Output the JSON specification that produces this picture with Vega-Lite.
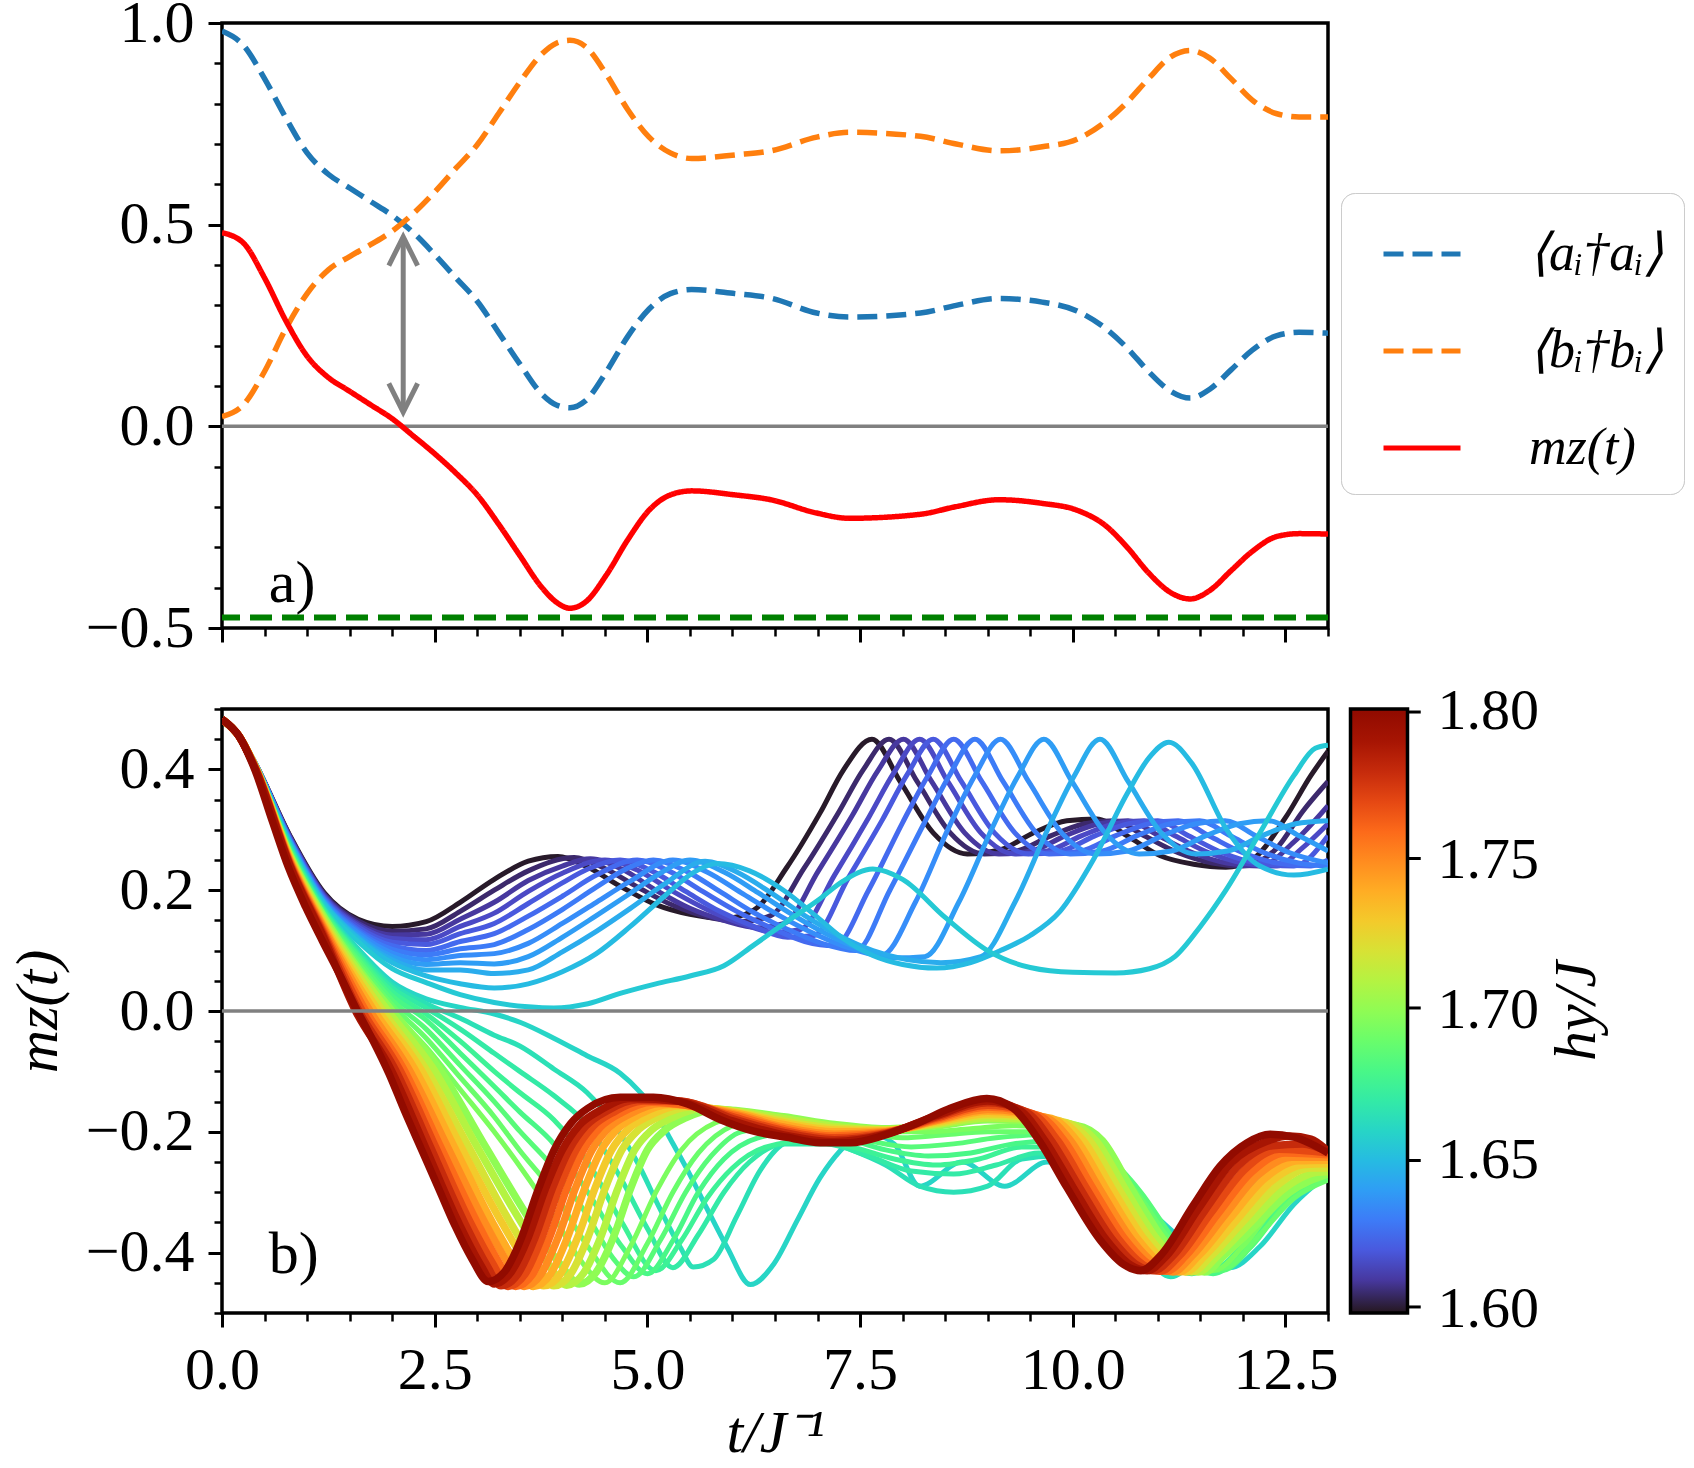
{
"$schema":"https://vega.github.io/schema/vega-lite/v6.json",
"background":"white",
"padding":{"left":6,"top":-9,"right":0,"bottom":0},
"config":{
 "font":"Liberation Serif",
 "view":{"stroke":"black","strokeWidth":3.5},
 "axis":{"grid":false,"domain":false,"labelFontSize":60,"titleFontSize":60,"labelColor":"black","titleColor":"black","tickColor":"black","titleFontWeight":"normal","titleFontStyle":"italic","labelFlush":false,"labelOverlap":false},
 "legend":{"labelColor":"black","titleColor":"black","titleFontWeight":"normal"}
},
"datasets":{
"top":[
{"s":"a","t":0,"v":0.98},{"s":"a","t":0.25,"v":0.945},{"s":"a","t":0.5,"v":0.862},{"s":"a","t":0.75,"v":0.765},{"s":"a","t":1.0,"v":0.678},{"s":"a","t":1.25,"v":0.625},{"s":"a","t":1.5,"v":0.591},{"s":"a","t":1.75,"v":0.557},{"s":"a","t":2.0,"v":0.523},{"s":"a","t":2.25,"v":0.48},{"s":"a","t":2.5,"v":0.426},{"s":"a","t":2.75,"v":0.368},{"s":"a","t":3.0,"v":0.31},{"s":"a","t":3.25,"v":0.233},{"s":"a","t":3.5,"v":0.155},{"s":"a","t":3.75,"v":0.082},{"s":"a","t":3.93,"v":0.053},{"s":"a","t":4.09,"v":0.046},{"s":"a","t":4.27,"v":0.063},{"s":"a","t":4.52,"v":0.136},{"s":"a","t":4.77,"v":0.223},{"s":"a","t":5.02,"v":0.291},{"s":"a","t":5.27,"v":0.329},{"s":"a","t":5.52,"v":0.339},{"s":"a","t":6.03,"v":0.329},{"s":"a","t":6.45,"v":0.318},{"s":"a","t":6.99,"v":0.281},{"s":"a","t":7.37,"v":0.271},{"s":"a","t":8.21,"v":0.281},{"s":"a","t":8.63,"v":0.3},{"s":"a","t":9.13,"v":0.317},{"s":"a","t":9.64,"v":0.308},{"s":"a","t":10.05,"v":0.286},{"s":"a","t":10.39,"v":0.242},{"s":"a","t":10.64,"v":0.194},{"s":"a","t":10.89,"v":0.136},{"s":"a","t":11.15,"v":0.087},{"s":"a","t":11.38,"v":0.07},{"s":"a","t":11.61,"v":0.092},{"s":"a","t":11.86,"v":0.14},{"s":"a","t":12.11,"v":0.189},{"s":"a","t":12.4,"v":0.225},{"s":"a","t":12.66,"v":0.233},{"s":"a","t":13.0,"v":0.231},
{"s":"b","t":0,"v":0.024},{"s":"b","t":0.25,"v":0.053},{"s":"b","t":0.5,"v":0.136},{"s":"b","t":0.75,"v":0.242},{"s":"b","t":1.0,"v":0.329},{"s":"b","t":1.25,"v":0.388},{"s":"b","t":1.5,"v":0.421},{"s":"b","t":1.75,"v":0.451},{"s":"b","t":2.0,"v":0.484},{"s":"b","t":2.25,"v":0.528},{"s":"b","t":2.5,"v":0.581},{"s":"b","t":2.75,"v":0.64},{"s":"b","t":3.0,"v":0.698},{"s":"b","t":3.25,"v":0.775},{"s":"b","t":3.5,"v":0.853},{"s":"b","t":3.75,"v":0.921},{"s":"b","t":3.93,"v":0.95},{"s":"b","t":4.09,"v":0.957},{"s":"b","t":4.27,"v":0.942},{"s":"b","t":4.52,"v":0.872},{"s":"b","t":4.77,"v":0.785},{"s":"b","t":5.02,"v":0.717},{"s":"b","t":5.27,"v":0.678},{"s":"b","t":5.52,"v":0.664},{"s":"b","t":6.03,"v":0.673},{"s":"b","t":6.45,"v":0.683},{"s":"b","t":6.99,"v":0.717},{"s":"b","t":7.37,"v":0.729},{"s":"b","t":8.21,"v":0.719},{"s":"b","t":8.63,"v":0.7},{"s":"b","t":9.13,"v":0.683},{"s":"b","t":9.64,"v":0.693},{"s":"b","t":10.05,"v":0.712},{"s":"b","t":10.39,"v":0.756},{"s":"b","t":10.64,"v":0.804},{"s":"b","t":10.89,"v":0.862},{"s":"b","t":11.15,"v":0.916},{"s":"b","t":11.38,"v":0.932},{"s":"b","t":11.61,"v":0.913},{"s":"b","t":11.86,"v":0.862},{"s":"b","t":12.11,"v":0.809},{"s":"b","t":12.4,"v":0.775},{"s":"b","t":12.66,"v":0.767},{"s":"b","t":13.0,"v":0.767},
{"s":"m","t":0,"v":0.48},{"s":"m","t":0.25,"v":0.455},{"s":"m","t":0.5,"v":0.368},{"s":"m","t":0.75,"v":0.262},{"s":"m","t":1.0,"v":0.174},{"s":"m","t":1.25,"v":0.121},{"s":"m","t":1.5,"v":0.087},{"s":"m","t":1.75,"v":0.053},{"s":"m","t":2.0,"v":0.019},{"s":"m","t":2.25,"v":-0.024},{"s":"m","t":2.5,"v":-0.068},{"s":"m","t":2.75,"v":-0.116},{"s":"m","t":3.0,"v":-0.17},{"s":"m","t":3.25,"v":-0.242},{"s":"m","t":3.5,"v":-0.32},{"s":"m","t":3.75,"v":-0.397},{"s":"m","t":3.93,"v":-0.436},{"s":"m","t":4.09,"v":-0.451},{"s":"m","t":4.27,"v":-0.436},{"s":"m","t":4.52,"v":-0.368},{"s":"m","t":4.77,"v":-0.281},{"s":"m","t":5.02,"v":-0.208},{"s":"m","t":5.27,"v":-0.17},{"s":"m","t":5.52,"v":-0.16},{"s":"m","t":6.03,"v":-0.17},{"s":"m","t":6.45,"v":-0.182},{"s":"m","t":6.99,"v":-0.215},{"s":"m","t":7.37,"v":-0.228},{"s":"m","t":8.21,"v":-0.218},{"s":"m","t":8.63,"v":-0.199},{"s":"m","t":9.13,"v":-0.182},{"s":"m","t":9.64,"v":-0.191},{"s":"m","t":10.05,"v":-0.208},{"s":"m","t":10.39,"v":-0.247},{"s":"m","t":10.64,"v":-0.3},{"s":"m","t":10.89,"v":-0.363},{"s":"m","t":11.15,"v":-0.412},{"s":"m","t":11.38,"v":-0.428},{"s":"m","t":11.61,"v":-0.407},{"s":"m","t":11.86,"v":-0.358},{"s":"m","t":12.11,"v":-0.31},{"s":"m","t":12.4,"v":-0.273},{"s":"m","t":12.66,"v":-0.266},{"s":"m","t":13.0,"v":-0.267}
],
"bot":[
{"h":1.6,"t":0,"m":0.483},{"h":1.6,"t":0.2,"m":0.457},{"h":1.6,"t":0.4,"m":0.408},{"h":1.6,"t":0.8,"m":0.29},{"h":1.6,"t":1.2,"m":0.196},{"h":1.6,"t":1.6,"m":0.152},{"h":1.6,"t":2.0,"m":0.14},{"h":1.6,"t":2.4,"m":0.148},{"h":1.6,"t":2.8,"m":0.18},{"h":1.6,"t":3.2,"m":0.218},{"h":1.6,"t":3.6,"m":0.248},{"h":1.6,"t":3.95,"m":0.256},{"h":1.6,"t":4.3,"m":0.238},{"h":1.6,"t":4.7,"m":0.205},{"h":1.6,"t":5.1,"m":0.176},{"h":1.6,"t":5.5,"m":0.16},{"h":1.6,"t":5.9,"m":0.153},{"h":1.6,"t":6.25,"m":0.167},{"h":1.6,"t":6.64,"m":0.238},{"h":1.6,"t":7.03,"m":0.328},{"h":1.6,"t":7.3,"m":0.398},{"h":1.6,"t":7.64,"m":0.45},{"h":1.6,"t":7.97,"m":0.38},{"h":1.6,"t":8.36,"m":0.295},{"h":1.6,"t":8.76,"m":0.26},{"h":1.6,"t":9.15,"m":0.267},{"h":1.6,"t":9.54,"m":0.295},{"h":1.6,"t":9.93,"m":0.315},{"h":1.6,"t":10.28,"m":0.318},{"h":1.6,"t":10.64,"m":0.29},{"h":1.6,"t":11.03,"m":0.257},{"h":1.6,"t":11.42,"m":0.243},{"h":1.6,"t":11.8,"m":0.238},{"h":1.6,"t":12.1,"m":0.25},{"h":1.6,"t":12.5,"m":0.32},{"h":1.6,"t":12.8,"m":0.39},{"h":1.6,"t":13,"m":0.43},
{"h":1.605,"t":0,"m":0.483},{"h":1.605,"t":0.2,"m":0.457},{"h":1.605,"t":0.4,"m":0.407},{"h":1.605,"t":0.8,"m":0.289},{"h":1.605,"t":1.2,"m":0.194},{"h":1.605,"t":1.6,"m":0.149},{"h":1.605,"t":2.0,"m":0.132},{"h":1.605,"t":2.4,"m":0.136},{"h":1.605,"t":2.8,"m":0.165},{"h":1.605,"t":3.2,"m":0.2},{"h":1.605,"t":3.6,"m":0.232},{"h":1.605,"t":4.14,"m":0.254},{"h":1.605,"t":4.5,"m":0.236},{"h":1.605,"t":4.9,"m":0.204},{"h":1.605,"t":5.3,"m":0.175},{"h":1.605,"t":5.7,"m":0.156},{"h":1.605,"t":6.1,"m":0.148},{"h":1.605,"t":6.45,"m":0.158},{"h":1.605,"t":6.84,"m":0.236},{"h":1.605,"t":7.24,"m":0.327},{"h":1.605,"t":7.54,"m":0.4},{"h":1.605,"t":7.84,"m":0.45},{"h":1.605,"t":8.17,"m":0.38},{"h":1.605,"t":8.56,"m":0.295},{"h":1.605,"t":8.96,"m":0.26},{"h":1.605,"t":9.34,"m":0.265},{"h":1.605,"t":9.74,"m":0.29},{"h":1.605,"t":10.14,"m":0.31},{"h":1.605,"t":10.48,"m":0.315},{"h":1.605,"t":10.84,"m":0.29},{"h":1.605,"t":11.24,"m":0.262},{"h":1.605,"t":11.64,"m":0.245},{"h":1.605,"t":12.0,"m":0.24},{"h":1.605,"t":12.4,"m":0.27},{"h":1.605,"t":12.7,"m":0.33},{"h":1.605,"t":13,"m":0.38},
{"h":1.61,"t":0,"m":0.483},{"h":1.61,"t":0.2,"m":0.457},{"h":1.61,"t":0.4,"m":0.407},{"h":1.61,"t":0.8,"m":0.287},{"h":1.61,"t":1.2,"m":0.192},{"h":1.61,"t":1.6,"m":0.145},{"h":1.61,"t":2.0,"m":0.126},{"h":1.61,"t":2.4,"m":0.127},{"h":1.61,"t":2.8,"m":0.152},{"h":1.61,"t":3.2,"m":0.18},{"h":1.61,"t":3.6,"m":0.216},{"h":1.61,"t":4.0,"m":0.24},{"h":1.61,"t":4.33,"m":0.252},{"h":1.61,"t":4.7,"m":0.235},{"h":1.61,"t":5.1,"m":0.2},{"h":1.61,"t":5.5,"m":0.17},{"h":1.61,"t":5.9,"m":0.15},{"h":1.61,"t":6.3,"m":0.138},{"h":1.61,"t":6.61,"m":0.145},{"h":1.61,"t":7.01,"m":0.232},{"h":1.61,"t":7.41,"m":0.324},{"h":1.61,"t":7.71,"m":0.398},{"h":1.61,"t":8.01,"m":0.45},{"h":1.61,"t":8.34,"m":0.38},{"h":1.61,"t":8.73,"m":0.295},{"h":1.61,"t":9.13,"m":0.26},{"h":1.61,"t":9.51,"m":0.265},{"h":1.61,"t":9.91,"m":0.29},{"h":1.61,"t":10.31,"m":0.31},{"h":1.61,"t":10.65,"m":0.315},{"h":1.61,"t":11.01,"m":0.29},{"h":1.61,"t":11.41,"m":0.262},{"h":1.61,"t":11.81,"m":0.245},{"h":1.61,"t":12.2,"m":0.24},{"h":1.61,"t":12.6,"m":0.28},{"h":1.61,"t":13,"m":0.34},
{"h":1.615,"t":0,"m":0.483},{"h":1.615,"t":0.2,"m":0.457},{"h":1.615,"t":0.4,"m":0.407},{"h":1.615,"t":0.8,"m":0.286},{"h":1.615,"t":1.2,"m":0.19},{"h":1.615,"t":1.6,"m":0.142},{"h":1.615,"t":2.0,"m":0.12},{"h":1.615,"t":2.4,"m":0.118},{"h":1.615,"t":2.8,"m":0.14},{"h":1.615,"t":3.2,"m":0.162},{"h":1.615,"t":3.6,"m":0.198},{"h":1.615,"t":4.0,"m":0.228},{"h":1.615,"t":4.5,"m":0.25},{"h":1.615,"t":4.9,"m":0.232},{"h":1.615,"t":5.3,"m":0.198},{"h":1.615,"t":5.7,"m":0.168},{"h":1.615,"t":6.1,"m":0.145},{"h":1.615,"t":6.5,"m":0.13},{"h":1.615,"t":6.8,"m":0.135},{"h":1.615,"t":7.2,"m":0.225},{"h":1.615,"t":7.6,"m":0.32},{"h":1.615,"t":7.9,"m":0.395},{"h":1.615,"t":8.2,"m":0.45},{"h":1.615,"t":8.53,"m":0.38},{"h":1.615,"t":8.92,"m":0.295},{"h":1.615,"t":9.32,"m":0.26},{"h":1.615,"t":9.7,"m":0.265},{"h":1.615,"t":10.1,"m":0.29},{"h":1.615,"t":10.5,"m":0.31},{"h":1.615,"t":10.84,"m":0.315},{"h":1.615,"t":11.2,"m":0.29},{"h":1.615,"t":11.6,"m":0.262},{"h":1.615,"t":12.0,"m":0.245},{"h":1.615,"t":12.4,"m":0.24},{"h":1.615,"t":12.7,"m":0.27},{"h":1.615,"t":13,"m":0.31},
{"h":1.62,"t":0,"m":0.483},{"h":1.62,"t":0.2,"m":0.457},{"h":1.62,"t":0.4,"m":0.407},{"h":1.62,"t":0.8,"m":0.285},{"h":1.62,"t":1.2,"m":0.188},{"h":1.62,"t":1.6,"m":0.139},{"h":1.62,"t":2.0,"m":0.114},{"h":1.62,"t":2.4,"m":0.11},{"h":1.62,"t":2.8,"m":0.128},{"h":1.62,"t":3.2,"m":0.145},{"h":1.62,"t":3.6,"m":0.178},{"h":1.62,"t":4.0,"m":0.212},{"h":1.62,"t":4.3,"m":0.235},{"h":1.62,"t":4.68,"m":0.25},{"h":1.62,"t":5.05,"m":0.232},{"h":1.62,"t":5.45,"m":0.198},{"h":1.62,"t":5.85,"m":0.165},{"h":1.62,"t":6.25,"m":0.14},{"h":1.62,"t":6.65,"m":0.122},{"h":1.62,"t":6.96,"m":0.125},{"h":1.62,"t":7.36,"m":0.22},{"h":1.62,"t":7.76,"m":0.316},{"h":1.62,"t":8.06,"m":0.393},{"h":1.62,"t":8.36,"m":0.45},{"h":1.62,"t":8.69,"m":0.38},{"h":1.62,"t":9.08,"m":0.295},{"h":1.62,"t":9.48,"m":0.26},{"h":1.62,"t":9.86,"m":0.265},{"h":1.62,"t":10.26,"m":0.29},{"h":1.62,"t":10.66,"m":0.31},{"h":1.62,"t":11.0,"m":0.315},{"h":1.62,"t":11.36,"m":0.29},{"h":1.62,"t":11.76,"m":0.262},{"h":1.62,"t":12.16,"m":0.245},{"h":1.62,"t":12.6,"m":0.24},{"h":1.62,"t":13,"m":0.29},
{"h":1.625,"t":0,"m":0.483},{"h":1.625,"t":0.2,"m":0.457},{"h":1.625,"t":0.4,"m":0.407},{"h":1.625,"t":0.8,"m":0.283},{"h":1.625,"t":1.2,"m":0.186},{"h":1.625,"t":1.6,"m":0.135},{"h":1.625,"t":2.0,"m":0.108},{"h":1.625,"t":2.4,"m":0.1},{"h":1.625,"t":2.8,"m":0.115},{"h":1.625,"t":3.2,"m":0.128},{"h":1.625,"t":3.6,"m":0.157},{"h":1.625,"t":4.0,"m":0.19},{"h":1.625,"t":4.4,"m":0.225},{"h":1.625,"t":4.88,"m":0.25},{"h":1.625,"t":5.25,"m":0.232},{"h":1.625,"t":5.65,"m":0.198},{"h":1.625,"t":6.05,"m":0.165},{"h":1.625,"t":6.45,"m":0.138},{"h":1.625,"t":6.85,"m":0.115},{"h":1.625,"t":7.2,"m":0.108},{"h":1.625,"t":7.6,"m":0.2},{"h":1.625,"t":8.0,"m":0.312},{"h":1.625,"t":8.3,"m":0.39},{"h":1.625,"t":8.6,"m":0.45},{"h":1.625,"t":8.93,"m":0.38},{"h":1.625,"t":9.32,"m":0.295},{"h":1.625,"t":9.72,"m":0.26},{"h":1.625,"t":10.1,"m":0.265},{"h":1.625,"t":10.5,"m":0.29},{"h":1.625,"t":10.9,"m":0.31},{"h":1.625,"t":11.24,"m":0.315},{"h":1.625,"t":11.6,"m":0.29},{"h":1.625,"t":12.0,"m":0.262},{"h":1.625,"t":12.4,"m":0.245},{"h":1.625,"t":12.8,"m":0.24},{"h":1.625,"t":13,"m":0.25},
{"h":1.63,"t":0,"m":0.483},{"h":1.63,"t":0.2,"m":0.457},{"h":1.63,"t":0.4,"m":0.407},{"h":1.63,"t":0.8,"m":0.282},{"h":1.63,"t":1.2,"m":0.184},{"h":1.63,"t":1.6,"m":0.132},{"h":1.63,"t":2.0,"m":0.102},{"h":1.63,"t":2.4,"m":0.093},{"h":1.63,"t":2.8,"m":0.103},{"h":1.63,"t":3.2,"m":0.11},{"h":1.63,"t":3.6,"m":0.135},{"h":1.63,"t":4.0,"m":0.168},{"h":1.63,"t":4.4,"m":0.205},{"h":1.63,"t":4.75,"m":0.235},{"h":1.63,"t":5.07,"m":0.25},{"h":1.63,"t":5.45,"m":0.232},{"h":1.63,"t":5.85,"m":0.198},{"h":1.63,"t":6.25,"m":0.163},{"h":1.63,"t":6.65,"m":0.135},{"h":1.63,"t":7.05,"m":0.112},{"h":1.63,"t":7.45,"m":0.1},{"h":1.63,"t":7.85,"m":0.2},{"h":1.63,"t":8.25,"m":0.31},{"h":1.63,"t":8.55,"m":0.39},{"h":1.63,"t":8.85,"m":0.45},{"h":1.63,"t":9.18,"m":0.38},{"h":1.63,"t":9.57,"m":0.295},{"h":1.63,"t":9.97,"m":0.26},{"h":1.63,"t":10.35,"m":0.265},{"h":1.63,"t":10.75,"m":0.29},{"h":1.63,"t":11.15,"m":0.31},{"h":1.63,"t":11.49,"m":0.315},{"h":1.63,"t":11.85,"m":0.29},{"h":1.63,"t":12.25,"m":0.262},{"h":1.63,"t":12.65,"m":0.245},{"h":1.63,"t":13,"m":0.24},
{"h":1.635,"t":0,"m":0.483},{"h":1.635,"t":0.2,"m":0.457},{"h":1.635,"t":0.4,"m":0.407},{"h":1.635,"t":0.8,"m":0.281},{"h":1.635,"t":1.2,"m":0.182},{"h":1.635,"t":1.6,"m":0.129},{"h":1.635,"t":2.0,"m":0.096},{"h":1.635,"t":2.4,"m":0.085},{"h":1.635,"t":2.8,"m":0.092},{"h":1.635,"t":3.2,"m":0.095},{"h":1.635,"t":3.6,"m":0.112},{"h":1.635,"t":4.0,"m":0.145},{"h":1.635,"t":4.4,"m":0.18},{"h":1.635,"t":4.8,"m":0.215},{"h":1.635,"t":5.3,"m":0.25},{"h":1.635,"t":5.7,"m":0.23},{"h":1.635,"t":6.1,"m":0.196},{"h":1.635,"t":6.5,"m":0.162},{"h":1.635,"t":6.9,"m":0.132},{"h":1.635,"t":7.3,"m":0.108},{"h":1.635,"t":7.75,"m":0.092},{"h":1.635,"t":8.15,"m":0.18},{"h":1.635,"t":8.55,"m":0.306},{"h":1.635,"t":8.85,"m":0.39},{"h":1.635,"t":9.15,"m":0.45},{"h":1.635,"t":9.48,"m":0.38},{"h":1.635,"t":9.87,"m":0.295},{"h":1.635,"t":10.27,"m":0.26},{"h":1.635,"t":10.65,"m":0.265},{"h":1.635,"t":11.05,"m":0.29},{"h":1.635,"t":11.45,"m":0.31},{"h":1.635,"t":11.79,"m":0.315},{"h":1.635,"t":12.15,"m":0.29},{"h":1.635,"t":12.55,"m":0.262},{"h":1.635,"t":13,"m":0.245},
{"h":1.64,"t":0,"m":0.483},{"h":1.64,"t":0.2,"m":0.457},{"h":1.64,"t":0.4,"m":0.407},{"h":1.64,"t":0.8,"m":0.28},{"h":1.64,"t":1.2,"m":0.18},{"h":1.64,"t":1.6,"m":0.125},{"h":1.64,"t":2.0,"m":0.09},{"h":1.64,"t":2.4,"m":0.077},{"h":1.64,"t":2.8,"m":0.08},{"h":1.64,"t":3.2,"m":0.078},{"h":1.64,"t":3.6,"m":0.09},{"h":1.64,"t":4.0,"m":0.122},{"h":1.64,"t":4.4,"m":0.158},{"h":1.64,"t":4.8,"m":0.195},{"h":1.64,"t":5.15,"m":0.228},{"h":1.64,"t":5.5,"m":0.25},{"h":1.64,"t":5.9,"m":0.23},{"h":1.64,"t":6.3,"m":0.196},{"h":1.64,"t":6.7,"m":0.16},{"h":1.64,"t":7.1,"m":0.128},{"h":1.64,"t":7.5,"m":0.103},{"h":1.64,"t":7.9,"m":0.088},{"h":1.64,"t":8.26,"m":0.09},{"h":1.64,"t":8.66,"m":0.18},{"h":1.64,"t":9.06,"m":0.305},{"h":1.64,"t":9.36,"m":0.39},{"h":1.64,"t":9.66,"m":0.45},{"h":1.64,"t":9.99,"m":0.38},{"h":1.64,"t":10.38,"m":0.295},{"h":1.64,"t":10.78,"m":0.26},{"h":1.64,"t":11.16,"m":0.265},{"h":1.64,"t":11.56,"m":0.29},{"h":1.64,"t":11.96,"m":0.31},{"h":1.64,"t":12.3,"m":0.315},{"h":1.64,"t":12.66,"m":0.29},{"h":1.64,"t":13,"m":0.265},
{"h":1.645,"t":0,"m":0.483},{"h":1.645,"t":0.2,"m":0.457},{"h":1.645,"t":0.4,"m":0.407},{"h":1.645,"t":0.8,"m":0.279},{"h":1.645,"t":1.2,"m":0.179},{"h":1.645,"t":1.6,"m":0.122},{"h":1.645,"t":2.0,"m":0.085},{"h":1.645,"t":2.4,"m":0.068},{"h":1.645,"t":2.8,"m":0.068},{"h":1.645,"t":3.2,"m":0.062},{"h":1.645,"t":3.6,"m":0.068},{"h":1.645,"t":4.0,"m":0.098},{"h":1.645,"t":4.4,"m":0.132},{"h":1.645,"t":4.8,"m":0.17},{"h":1.645,"t":5.2,"m":0.21},{"h":1.645,"t":5.68,"m":0.248},{"h":1.645,"t":6.05,"m":0.23},{"h":1.645,"t":6.45,"m":0.196},{"h":1.645,"t":6.85,"m":0.158},{"h":1.645,"t":7.25,"m":0.125},{"h":1.645,"t":7.65,"m":0.1},{"h":1.645,"t":8.05,"m":0.085},{"h":1.645,"t":8.45,"m":0.08},{"h":1.645,"t":8.92,"m":0.09},{"h":1.645,"t":9.32,"m":0.18},{"h":1.645,"t":9.72,"m":0.305},{"h":1.645,"t":10.02,"m":0.39},{"h":1.645,"t":10.32,"m":0.45},{"h":1.645,"t":10.65,"m":0.38},{"h":1.645,"t":11.04,"m":0.295},{"h":1.645,"t":11.44,"m":0.26},{"h":1.645,"t":11.82,"m":0.265},{"h":1.645,"t":12.22,"m":0.29},{"h":1.645,"t":12.62,"m":0.31},{"h":1.645,"t":13,"m":0.315},
{"h":1.65,"t":0,"m":0.483},{"h":1.65,"t":0.2,"m":0.457},{"h":1.65,"t":0.4,"m":0.406},{"h":1.65,"t":0.8,"m":0.277},{"h":1.65,"t":1.2,"m":0.178},{"h":1.65,"t":1.6,"m":0.12},{"h":1.65,"t":2.0,"m":0.08},{"h":1.65,"t":2.4,"m":0.058},{"h":1.65,"t":2.8,"m":0.045},{"h":1.65,"t":3.2,"m":0.038},{"h":1.65,"t":3.6,"m":0.045},{"h":1.65,"t":4.0,"m":0.065},{"h":1.65,"t":4.4,"m":0.095},{"h":1.65,"t":4.8,"m":0.14},{"h":1.65,"t":5.2,"m":0.19},{"h":1.65,"t":5.55,"m":0.23},{"h":1.65,"t":5.82,"m":0.244},{"h":1.65,"t":6.2,"m":0.232},{"h":1.65,"t":6.6,"m":0.2},{"h":1.65,"t":7.0,"m":0.155},{"h":1.65,"t":7.3,"m":0.12},{"h":1.65,"t":7.65,"m":0.092},{"h":1.65,"t":8.0,"m":0.077},{"h":1.65,"t":8.4,"m":0.071},{"h":1.65,"t":8.8,"m":0.08},{"h":1.65,"t":9.15,"m":0.1},{"h":1.65,"t":9.5,"m":0.125},{"h":1.65,"t":9.85,"m":0.165},{"h":1.65,"t":10.24,"m":0.25},{"h":1.65,"t":10.64,"m":0.36},{"h":1.65,"t":10.9,"m":0.42},{"h":1.65,"t":11.13,"m":0.445},{"h":1.65,"t":11.4,"m":0.41},{"h":1.65,"t":11.81,"m":0.3},{"h":1.65,"t":12.2,"m":0.24},{"h":1.65,"t":12.6,"m":0.225},{"h":1.65,"t":13,"m":0.235},
{"h":1.655,"t":0,"m":0.483},{"h":1.655,"t":0.2,"m":0.457},{"h":1.655,"t":0.4,"m":0.405},{"h":1.655,"t":0.8,"m":0.275},{"h":1.655,"t":1.2,"m":0.175},{"h":1.655,"t":1.6,"m":0.115},{"h":1.655,"t":2.0,"m":0.07},{"h":1.655,"t":2.4,"m":0.047},{"h":1.655,"t":2.8,"m":0.027},{"h":1.655,"t":3.2,"m":0.014},{"h":1.655,"t":3.6,"m":0.007},{"h":1.655,"t":3.9,"m":0.005},{"h":1.655,"t":4.3,"m":0.012},{"h":1.655,"t":4.7,"m":0.03},{"h":1.655,"t":5.1,"m":0.045},{"h":1.655,"t":5.5,"m":0.058},{"h":1.655,"t":5.9,"m":0.075},{"h":1.655,"t":6.25,"m":0.109},{"h":1.655,"t":6.64,"m":0.148},{"h":1.655,"t":7.03,"m":0.186},{"h":1.655,"t":7.3,"m":0.215},{"h":1.655,"t":7.65,"m":0.235},{"h":1.655,"t":8.0,"m":0.218},{"h":1.655,"t":8.5,"m":0.155},{"h":1.655,"t":9.0,"m":0.1},{"h":1.655,"t":9.5,"m":0.072},{"h":1.655,"t":10.0,"m":0.064},{"h":1.655,"t":10.5,"m":0.063},{"h":1.655,"t":10.9,"m":0.07},{"h":1.655,"t":11.2,"m":0.09},{"h":1.655,"t":11.5,"m":0.14},{"h":1.655,"t":11.8,"m":0.2},{"h":1.655,"t":12.2,"m":0.295},{"h":1.655,"t":12.6,"m":0.39},{"h":1.655,"t":12.85,"m":0.435},{"h":1.655,"t":13,"m":0.44},
{"h":1.66,"t":0,"m":0.483},{"h":1.66,"t":0.2,"m":0.456},{"h":1.66,"t":0.4,"m":0.403},{"h":1.66,"t":0.8,"m":0.273},{"h":1.66,"t":1.2,"m":0.171},{"h":1.66,"t":1.6,"m":0.103},{"h":1.66,"t":2.0,"m":0.048},{"h":1.66,"t":2.4,"m":0.02},{"h":1.66,"t":2.8,"m":0.006},{"h":1.66,"t":3.2,"m":-0.005},{"h":1.66,"t":3.51,"m":-0.019},{"h":1.66,"t":3.9,"m":-0.045},{"h":1.66,"t":4.29,"m":-0.074},{"h":1.66,"t":4.68,"m":-0.103},{"h":1.66,"t":4.92,"m":-0.135},{"h":1.66,"t":5.07,"m":-0.161},{"h":1.66,"t":5.27,"m":-0.212},{"h":1.66,"t":5.47,"m":-0.263},{"h":1.66,"t":5.7,"m":-0.327},{"h":1.66,"t":5.94,"m":-0.392},{"h":1.66,"t":6.21,"m":-0.453},{"h":1.66,"t":6.49,"m":-0.418},{"h":1.66,"t":6.76,"m":-0.347},{"h":1.66,"t":7.03,"m":-0.276},{"h":1.66,"t":7.27,"m":-0.231},{"h":1.66,"t":7.55,"m":-0.2},{"h":1.66,"t":7.9,"m":-0.22},{"h":1.66,"t":8.2,"m":-0.29},{"h":1.66,"t":8.7,"m":-0.25},{"h":1.66,"t":9.2,"m":-0.29},{"h":1.66,"t":9.7,"m":-0.25},{"h":1.66,"t":10.1,"m":-0.255},{"h":1.66,"t":10.5,"m":-0.28},{"h":1.66,"t":10.9,"m":-0.33},{"h":1.66,"t":11.3,"m":-0.38},{"h":1.66,"t":11.6,"m":-0.41},{"h":1.66,"t":11.85,"m":-0.425},{"h":1.66,"t":12.2,"m":-0.39},{"h":1.66,"t":12.6,"m":-0.32},{"h":1.66,"t":13,"m":-0.27},
{"h":1.665,"t":0,"m":0.483},{"h":1.665,"t":0.2,"m":0.456},{"h":1.665,"t":0.4,"m":0.403},{"h":1.665,"t":0.8,"m":0.272},{"h":1.665,"t":1.2,"m":0.169},{"h":1.665,"t":1.6,"m":0.1},{"h":1.665,"t":2.0,"m":0.043},{"h":1.665,"t":2.4,"m":0.012},{"h":1.665,"t":2.8,"m":-0.012},{"h":1.665,"t":3.2,"m":-0.04},{"h":1.665,"t":3.5,"m":-0.058},{"h":1.665,"t":3.9,"m":-0.096},{"h":1.665,"t":4.29,"m":-0.135},{"h":1.665,"t":4.6,"m":-0.186},{"h":1.665,"t":4.88,"m":-0.25},{"h":1.665,"t":5.15,"m":-0.328},{"h":1.665,"t":5.39,"m":-0.392},{"h":1.665,"t":5.54,"m":-0.424},{"h":1.665,"t":5.78,"m":-0.411},{"h":1.665,"t":6.05,"m":-0.34},{"h":1.665,"t":6.33,"m":-0.263},{"h":1.665,"t":6.64,"m":-0.218},{"h":1.665,"t":7.03,"m":-0.212},{"h":1.665,"t":7.4,"m":-0.23},{"h":1.665,"t":7.8,"m":-0.255},{"h":1.665,"t":8.2,"m":-0.29},{"h":1.665,"t":8.6,"m":-0.3},{"h":1.665,"t":9.0,"m":-0.29},{"h":1.665,"t":9.4,"m":-0.245},{"h":1.665,"t":9.8,"m":-0.24},{"h":1.665,"t":10.2,"m":-0.27},{"h":1.665,"t":10.6,"m":-0.33},{"h":1.665,"t":10.9,"m":-0.41},{"h":1.665,"t":11.15,"m":-0.44},{"h":1.665,"t":11.5,"m":-0.4},{"h":1.665,"t":11.9,"m":-0.32},{"h":1.665,"t":12.3,"m":-0.27},{"h":1.665,"t":12.7,"m":-0.255},{"h":1.665,"t":13,"m":-0.26},
{"h":1.67,"t":0,"m":0.483},{"h":1.67,"t":0.2,"m":0.456},{"h":1.67,"t":0.4,"m":0.403},{"h":1.67,"t":0.8,"m":0.27},{"h":1.67,"t":1.2,"m":0.167},{"h":1.67,"t":1.6,"m":0.096},{"h":1.67,"t":2.0,"m":0.038},{"h":1.67,"t":2.4,"m":0.005},{"h":1.67,"t":2.8,"m":-0.03},{"h":1.67,"t":3.2,"m":-0.07},{"h":1.67,"t":3.5,"m":-0.1},{"h":1.67,"t":3.9,"m":-0.14},{"h":1.67,"t":4.3,"m":-0.19},{"h":1.67,"t":4.7,"m":-0.28},{"h":1.67,"t":5.0,"m":-0.36},{"h":1.67,"t":5.3,"m":-0.425},{"h":1.67,"t":5.6,"m":-0.37},{"h":1.67,"t":5.9,"m":-0.3},{"h":1.67,"t":6.2,"m":-0.25},{"h":1.67,"t":6.6,"m":-0.22},{"h":1.67,"t":7.1,"m":-0.22},{"h":1.67,"t":7.6,"m":-0.24},{"h":1.67,"t":8.1,"m":-0.265},{"h":1.67,"t":8.6,"m":-0.27},{"h":1.67,"t":9.1,"m":-0.255},{"h":1.67,"t":9.6,"m":-0.235},{"h":1.67,"t":10.0,"m":-0.24},{"h":1.67,"t":10.4,"m":-0.28},{"h":1.67,"t":10.8,"m":-0.35},{"h":1.67,"t":11.15,"m":-0.42},{"h":1.67,"t":11.4,"m":-0.435},{"h":1.67,"t":11.7,"m":-0.41},{"h":1.67,"t":12.1,"m":-0.34},{"h":1.67,"t":12.5,"m":-0.29},{"h":1.67,"t":13,"m":-0.27},
{"h":1.675,"t":0,"m":0.483},{"h":1.675,"t":0.2,"m":0.456},{"h":1.675,"t":0.4,"m":0.403},{"h":1.675,"t":0.8,"m":0.268},{"h":1.675,"t":1.2,"m":0.165},{"h":1.675,"t":1.6,"m":0.093},{"h":1.675,"t":2.0,"m":0.032},{"h":1.675,"t":2.4,"m":-0.005},{"h":1.675,"t":2.8,"m":-0.05},{"h":1.675,"t":3.2,"m":-0.1},{"h":1.675,"t":3.5,"m":-0.135},{"h":1.675,"t":3.9,"m":-0.18},{"h":1.675,"t":4.3,"m":-0.25},{"h":1.675,"t":4.7,"m":-0.35},{"h":1.675,"t":5.1,"m":-0.43},{"h":1.675,"t":5.4,"m":-0.38},{"h":1.675,"t":5.7,"m":-0.31},{"h":1.675,"t":6.0,"m":-0.26},{"h":1.675,"t":6.4,"m":-0.225},{"h":1.675,"t":6.9,"m":-0.215},{"h":1.675,"t":7.4,"m":-0.225},{"h":1.675,"t":7.9,"m":-0.245},{"h":1.675,"t":8.4,"m":-0.255},{"h":1.675,"t":8.9,"m":-0.245},{"h":1.675,"t":9.4,"m":-0.225},{"h":1.675,"t":9.9,"m":-0.225},{"h":1.675,"t":10.3,"m":-0.25},{"h":1.675,"t":10.7,"m":-0.31},{"h":1.675,"t":11.1,"m":-0.39},{"h":1.675,"t":11.45,"m":-0.43},{"h":1.675,"t":11.7,"m":-0.425},{"h":1.675,"t":12.1,"m":-0.37},{"h":1.675,"t":12.5,"m":-0.31},{"h":1.675,"t":13,"m":-0.27},
{"h":1.68,"t":0,"m":0.483},{"h":1.68,"t":0.2,"m":0.456},{"h":1.68,"t":0.4,"m":0.403},{"h":1.68,"t":0.8,"m":0.266},{"h":1.68,"t":1.2,"m":0.163},{"h":1.68,"t":1.6,"m":0.09},{"h":1.68,"t":2.0,"m":0.025},{"h":1.68,"t":2.4,"m":-0.015},{"h":1.68,"t":2.8,"m":-0.07},{"h":1.68,"t":3.2,"m":-0.125},{"h":1.68,"t":3.5,"m":-0.167},{"h":1.68,"t":3.9,"m":-0.22},{"h":1.68,"t":4.3,"m":-0.3},{"h":1.68,"t":4.7,"m":-0.39},{"h":1.68,"t":5.0,"m":-0.435},{"h":1.68,"t":5.3,"m":-0.38},{"h":1.68,"t":5.6,"m":-0.3},{"h":1.68,"t":5.9,"m":-0.245},{"h":1.68,"t":6.3,"m":-0.21},{"h":1.68,"t":6.8,"m":-0.2},{"h":1.68,"t":7.3,"m":-0.21},{"h":1.68,"t":7.8,"m":-0.23},{"h":1.68,"t":8.3,"m":-0.24},{"h":1.68,"t":8.8,"m":-0.235},{"h":1.68,"t":9.3,"m":-0.22},{"h":1.68,"t":9.8,"m":-0.215},{"h":1.68,"t":10.2,"m":-0.225},{"h":1.68,"t":10.6,"m":-0.27},{"h":1.68,"t":11.0,"m":-0.35},{"h":1.68,"t":11.4,"m":-0.42},{"h":1.68,"t":11.65,"m":-0.435},{"h":1.68,"t":12.0,"m":-0.4},{"h":1.68,"t":12.4,"m":-0.33},{"h":1.68,"t":12.8,"m":-0.285},{"h":1.68,"t":13,"m":-0.275},
{"h":1.685,"t":0,"m":0.483},{"h":1.685,"t":0.2,"m":0.456},{"h":1.685,"t":0.4,"m":0.403},{"h":1.685,"t":0.8,"m":0.264},{"h":1.685,"t":1.2,"m":0.161},{"h":1.685,"t":1.6,"m":0.085},{"h":1.685,"t":2.0,"m":0.018},{"h":1.685,"t":2.4,"m":-0.03},{"h":1.685,"t":2.8,"m":-0.09},{"h":1.685,"t":3.2,"m":-0.15},{"h":1.685,"t":3.5,"m":-0.199},{"h":1.685,"t":3.9,"m":-0.26},{"h":1.685,"t":4.3,"m":-0.34},{"h":1.685,"t":4.6,"m":-0.41},{"h":1.685,"t":4.84,"m":-0.44},{"h":1.685,"t":5.15,"m":-0.38},{"h":1.685,"t":5.45,"m":-0.3},{"h":1.685,"t":5.75,"m":-0.24},{"h":1.685,"t":6.1,"m":-0.2},{"h":1.685,"t":6.6,"m":-0.19},{"h":1.685,"t":7.1,"m":-0.2},{"h":1.685,"t":7.6,"m":-0.215},{"h":1.685,"t":8.1,"m":-0.225},{"h":1.685,"t":8.6,"m":-0.22},{"h":1.685,"t":9.1,"m":-0.21},{"h":1.685,"t":9.6,"m":-0.205},{"h":1.685,"t":10.0,"m":-0.21},{"h":1.685,"t":10.4,"m":-0.24},{"h":1.685,"t":10.8,"m":-0.3},{"h":1.685,"t":11.2,"m":-0.38},{"h":1.685,"t":11.5,"m":-0.425},{"h":1.685,"t":11.75,"m":-0.43},{"h":1.685,"t":12.1,"m":-0.39},{"h":1.685,"t":12.5,"m":-0.32},{"h":1.685,"t":13,"m":-0.275},
{"h":1.69,"t":0,"m":0.483},{"h":1.69,"t":0.2,"m":0.456},{"h":1.69,"t":0.4,"m":0.403},{"h":1.69,"t":0.8,"m":0.262},{"h":1.69,"t":1.2,"m":0.159},{"h":1.69,"t":1.6,"m":0.08},{"h":1.69,"t":2.0,"m":0.01},{"h":1.69,"t":2.4,"m":-0.045},{"h":1.69,"t":2.8,"m":-0.11},{"h":1.69,"t":3.2,"m":-0.175},{"h":1.69,"t":3.5,"m":-0.231},{"h":1.69,"t":3.9,"m":-0.3},{"h":1.69,"t":4.3,"m":-0.39},{"h":1.69,"t":4.68,"m":-0.45},{"h":1.69,"t":5.0,"m":-0.385},{"h":1.69,"t":5.3,"m":-0.3},{"h":1.69,"t":5.6,"m":-0.235},{"h":1.69,"t":6.0,"m":-0.19},{"h":1.69,"t":6.5,"m":-0.175},{"h":1.69,"t":7.0,"m":-0.185},{"h":1.69,"t":7.5,"m":-0.2},{"h":1.69,"t":8.0,"m":-0.21},{"h":1.69,"t":8.5,"m":-0.205},{"h":1.69,"t":9.0,"m":-0.2},{"h":1.69,"t":9.5,"m":-0.2},{"h":1.69,"t":10.0,"m":-0.205},{"h":1.69,"t":10.4,"m":-0.24},{"h":1.69,"t":10.8,"m":-0.31},{"h":1.69,"t":11.2,"m":-0.39},{"h":1.69,"t":11.55,"m":-0.43},{"h":1.69,"t":11.8,"m":-0.425},{"h":1.69,"t":12.2,"m":-0.37},{"h":1.69,"t":12.6,"m":-0.31},{"h":1.69,"t":13,"m":-0.28},
{"h":1.695,"t":0,"m":0.483},{"h":1.695,"t":0.2,"m":0.456},{"h":1.695,"t":0.4,"m":0.403},{"h":1.695,"t":0.8,"m":0.26},{"h":1.695,"t":1.2,"m":0.157},{"h":1.695,"t":1.6,"m":0.075},{"h":1.695,"t":2.0,"m":0.0},{"h":1.695,"t":2.4,"m":-0.06},{"h":1.695,"t":2.8,"m":-0.13},{"h":1.695,"t":3.2,"m":-0.2},{"h":1.695,"t":3.5,"m":-0.257},{"h":1.695,"t":3.9,"m":-0.34},{"h":1.695,"t":4.2,"m":-0.41},{"h":1.695,"t":4.5,"m":-0.45},{"h":1.695,"t":4.8,"m":-0.39},{"h":1.695,"t":5.1,"m":-0.3},{"h":1.695,"t":5.4,"m":-0.23},{"h":1.695,"t":5.8,"m":-0.185},{"h":1.695,"t":6.3,"m":-0.17},{"h":1.695,"t":6.8,"m":-0.18},{"h":1.695,"t":7.3,"m":-0.19},{"h":1.695,"t":7.8,"m":-0.2},{"h":1.695,"t":8.3,"m":-0.2},{"h":1.695,"t":8.8,"m":-0.195},{"h":1.695,"t":9.3,"m":-0.19},{"h":1.695,"t":9.8,"m":-0.195},{"h":1.695,"t":10.2,"m":-0.22},{"h":1.695,"t":10.6,"m":-0.29},{"h":1.695,"t":11.0,"m":-0.37},{"h":1.695,"t":11.4,"m":-0.425},{"h":1.695,"t":11.65,"m":-0.43},{"h":1.695,"t":12.0,"m":-0.39},{"h":1.695,"t":12.4,"m":-0.32},{"h":1.695,"t":12.8,"m":-0.28},{"h":1.695,"t":13,"m":-0.27},
{"h":1.7,"t":0,"m":0.483},{"h":1.7,"t":0.2,"m":0.455},{"h":1.7,"t":0.4,"m":0.402},{"h":1.7,"t":0.8,"m":0.258},{"h":1.7,"t":1.2,"m":0.155},{"h":1.7,"t":1.6,"m":0.07},{"h":1.7,"t":2.0,"m":0},{"h":1.7,"t":2.55,"m":-0.095},{"h":1.7,"t":3.1,"m":-0.225},{"h":1.7,"t":3.65,"m":-0.353},{"h":1.7,"t":3.98,"m":-0.42},{"h":1.7,"t":4.2,"m":-0.452},{"h":1.7,"t":4.4,"m":-0.432},{"h":1.7,"t":4.6,"m":-0.375},{"h":1.7,"t":4.8,"m":-0.295},{"h":1.7,"t":5.0,"m":-0.23},{"h":1.7,"t":5.2,"m":-0.198},{"h":1.7,"t":5.45,"m":-0.177},{"h":1.7,"t":5.8,"m":-0.163},{"h":1.7,"t":6.6,"m":-0.175},{"h":1.7,"t":7.2,"m":-0.188},{"h":1.7,"t":7.8,"m":-0.195},{"h":1.7,"t":8.4,"m":-0.19},{"h":1.7,"t":9.0,"m":-0.18},{"h":1.7,"t":10.05,"m":-0.19},{"h":1.7,"t":10.35,"m":-0.215},{"h":1.7,"t":10.68,"m":-0.292},{"h":1.7,"t":11.07,"m":-0.379},{"h":1.7,"t":11.35,"m":-0.42},{"h":1.7,"t":11.55,"m":-0.432},{"h":1.7,"t":11.78,"m":-0.405},{"h":1.7,"t":12.15,"m":-0.355},{"h":1.7,"t":12.55,"m":-0.3},{"h":1.7,"t":13,"m":-0.27},
{"h":1.71,"t":0,"m":0.483},{"h":1.71,"t":0.2,"m":0.455},{"h":1.71,"t":0.4,"m":0.402},{"h":1.71,"t":0.8,"m":0.256},{"h":1.71,"t":1.2,"m":0.151},{"h":1.71,"t":1.95,"m":0},{"h":1.71,"t":2.48,"m":-0.095},{"h":1.71,"t":3.0,"m":-0.225},{"h":1.71,"t":3.53,"m":-0.353},{"h":1.71,"t":3.84,"m":-0.42},{"h":1.71,"t":4.05,"m":-0.454},{"h":1.71,"t":4.25,"m":-0.434},{"h":1.71,"t":4.45,"m":-0.375},{"h":1.71,"t":4.65,"m":-0.295},{"h":1.71,"t":4.85,"m":-0.23},{"h":1.71,"t":5.05,"m":-0.197},{"h":1.71,"t":5.3,"m":-0.176},{"h":1.71,"t":5.65,"m":-0.161},{"h":1.71,"t":6.0,"m":-0.165},{"h":1.71,"t":6.6,"m":-0.178},{"h":1.71,"t":7.2,"m":-0.191},{"h":1.71,"t":7.8,"m":-0.196},{"h":1.71,"t":8.4,"m":-0.188},{"h":1.71,"t":9.0,"m":-0.177},{"h":1.71,"t":9.975,"m":-0.187},{"h":1.71,"t":10.275,"m":-0.215},{"h":1.71,"t":10.605,"m":-0.292},{"h":1.71,"t":10.995,"m":-0.379},{"h":1.71,"t":11.275,"m":-0.42},{"h":1.71,"t":11.475,"m":-0.432},{"h":1.71,"t":11.705,"m":-0.405},{"h":1.71,"t":12.075,"m":-0.352},{"h":1.71,"t":12.475,"m":-0.295},{"h":1.71,"t":12.875,"m":-0.267},{"h":1.71,"t":13,"m":-0.266},
{"h":1.72,"t":0,"m":0.483},{"h":1.72,"t":0.2,"m":0.455},{"h":1.72,"t":0.4,"m":0.401},{"h":1.72,"t":0.8,"m":0.254},{"h":1.72,"t":1.2,"m":0.147},{"h":1.72,"t":1.89,"m":0},{"h":1.72,"t":2.39,"m":-0.095},{"h":1.72,"t":2.9,"m":-0.225},{"h":1.72,"t":3.4,"m":-0.353},{"h":1.72,"t":3.7,"m":-0.42},{"h":1.72,"t":3.9,"m":-0.455},{"h":1.72,"t":4.1,"m":-0.435},{"h":1.72,"t":4.3,"m":-0.375},{"h":1.72,"t":4.5,"m":-0.295},{"h":1.72,"t":4.7,"m":-0.23},{"h":1.72,"t":4.9,"m":-0.196},{"h":1.72,"t":5.15,"m":-0.174},{"h":1.72,"t":5.5,"m":-0.159},{"h":1.72,"t":6.0,"m":-0.166},{"h":1.72,"t":6.6,"m":-0.182},{"h":1.72,"t":7.2,"m":-0.194},{"h":1.72,"t":7.8,"m":-0.197},{"h":1.72,"t":8.4,"m":-0.186},{"h":1.72,"t":9.0,"m":-0.173},{"h":1.72,"t":9.9,"m":-0.184},{"h":1.72,"t":10.2,"m":-0.215},{"h":1.72,"t":10.53,"m":-0.292},{"h":1.72,"t":10.92,"m":-0.379},{"h":1.72,"t":11.2,"m":-0.42},{"h":1.72,"t":11.4,"m":-0.432},{"h":1.72,"t":11.63,"m":-0.405},{"h":1.72,"t":12.0,"m":-0.349},{"h":1.72,"t":12.4,"m":-0.289},{"h":1.72,"t":12.8,"m":-0.26},{"h":1.72,"t":13,"m":-0.26},
{"h":1.73,"t":0,"m":0.483},{"h":1.73,"t":0.2,"m":0.455},{"h":1.73,"t":0.4,"m":0.401},{"h":1.73,"t":0.8,"m":0.252},{"h":1.73,"t":1.2,"m":0.143},{"h":1.73,"t":1.84,"m":0},{"h":1.73,"t":2.33,"m":-0.095},{"h":1.73,"t":2.81,"m":-0.225},{"h":1.73,"t":3.3,"m":-0.353},{"h":1.73,"t":3.59,"m":-0.42},{"h":1.73,"t":3.78,"m":-0.455},{"h":1.73,"t":3.98,"m":-0.435},{"h":1.73,"t":4.18,"m":-0.375},{"h":1.73,"t":4.38,"m":-0.295},{"h":1.73,"t":4.58,"m":-0.23},{"h":1.73,"t":4.78,"m":-0.195},{"h":1.73,"t":5.03,"m":-0.173},{"h":1.73,"t":5.38,"m":-0.157},{"h":1.73,"t":6.0,"m":-0.167},{"h":1.73,"t":6.6,"m":-0.185},{"h":1.73,"t":7.2,"m":-0.197},{"h":1.73,"t":7.8,"m":-0.198},{"h":1.73,"t":8.4,"m":-0.184},{"h":1.73,"t":9.0,"m":-0.17},{"h":1.73,"t":9.825,"m":-0.181},{"h":1.73,"t":10.125,"m":-0.215},{"h":1.73,"t":10.455,"m":-0.292},{"h":1.73,"t":10.845,"m":-0.379},{"h":1.73,"t":11.125,"m":-0.42},{"h":1.73,"t":11.325,"m":-0.432},{"h":1.73,"t":11.555,"m":-0.405},{"h":1.73,"t":11.925,"m":-0.346},{"h":1.73,"t":12.325,"m":-0.283},{"h":1.73,"t":12.725,"m":-0.254},{"h":1.73,"t":13,"m":-0.253},
{"h":1.74,"t":0,"m":0.483},{"h":1.74,"t":0.2,"m":0.455},{"h":1.74,"t":0.4,"m":0.4},{"h":1.74,"t":0.8,"m":0.25},{"h":1.74,"t":1.2,"m":0.139},{"h":1.74,"t":1.79,"m":0},{"h":1.74,"t":2.26,"m":-0.095},{"h":1.74,"t":2.73,"m":-0.225},{"h":1.74,"t":3.19,"m":-0.353},{"h":1.74,"t":3.47,"m":-0.42},{"h":1.74,"t":3.66,"m":-0.456},{"h":1.74,"t":3.86,"m":-0.436},{"h":1.74,"t":4.06,"m":-0.375},{"h":1.74,"t":4.26,"m":-0.295},{"h":1.74,"t":4.46,"m":-0.23},{"h":1.74,"t":4.66,"m":-0.194},{"h":1.74,"t":4.91,"m":-0.171},{"h":1.74,"t":5.26,"m":-0.155},{"h":1.74,"t":6.0,"m":-0.168},{"h":1.74,"t":6.6,"m":-0.188},{"h":1.74,"t":7.2,"m":-0.2},{"h":1.74,"t":7.8,"m":-0.199},{"h":1.74,"t":8.4,"m":-0.182},{"h":1.74,"t":9.0,"m":-0.166},{"h":1.74,"t":9.75,"m":-0.178},{"h":1.74,"t":10.05,"m":-0.215},{"h":1.74,"t":10.38,"m":-0.292},{"h":1.74,"t":10.77,"m":-0.379},{"h":1.74,"t":11.05,"m":-0.42},{"h":1.74,"t":11.25,"m":-0.432},{"h":1.74,"t":11.48,"m":-0.405},{"h":1.74,"t":11.85,"m":-0.343},{"h":1.74,"t":12.25,"m":-0.278},{"h":1.74,"t":12.65,"m":-0.248},{"h":1.74,"t":13,"m":-0.247},
{"h":1.75,"t":0,"m":0.483},{"h":1.75,"t":0.2,"m":0.455},{"h":1.75,"t":0.4,"m":0.4},{"h":1.75,"t":0.8,"m":0.248},{"h":1.75,"t":1.2,"m":0.136},{"h":1.75,"t":1.74,"m":0},{"h":1.75,"t":2.19,"m":-0.095},{"h":1.75,"t":2.65,"m":-0.225},{"h":1.75,"t":3.1,"m":-0.353},{"h":1.75,"t":3.37,"m":-0.42},{"h":1.75,"t":3.55,"m":-0.456},{"h":1.75,"t":3.75,"m":-0.436},{"h":1.75,"t":3.95,"m":-0.375},{"h":1.75,"t":4.15,"m":-0.295},{"h":1.75,"t":4.35,"m":-0.23},{"h":1.75,"t":4.55,"m":-0.193},{"h":1.75,"t":4.8,"m":-0.17},{"h":1.75,"t":5.15,"m":-0.153},{"h":1.75,"t":6.0,"m":-0.17},{"h":1.75,"t":6.6,"m":-0.192},{"h":1.75,"t":7.2,"m":-0.204},{"h":1.75,"t":7.8,"m":-0.2},{"h":1.75,"t":8.4,"m":-0.181},{"h":1.75,"t":9.0,"m":-0.163},{"h":1.75,"t":9.675,"m":-0.176},{"h":1.75,"t":9.975,"m":-0.215},{"h":1.75,"t":10.305,"m":-0.292},{"h":1.75,"t":10.695,"m":-0.379},{"h":1.75,"t":10.975,"m":-0.42},{"h":1.75,"t":11.175,"m":-0.432},{"h":1.75,"t":11.405,"m":-0.405},{"h":1.75,"t":11.775,"m":-0.34},{"h":1.75,"t":12.175,"m":-0.272},{"h":1.75,"t":12.575,"m":-0.242},{"h":1.75,"t":13,"m":-0.242},
{"h":1.76,"t":0,"m":0.483},{"h":1.76,"t":0.2,"m":0.455},{"h":1.76,"t":0.4,"m":0.4},{"h":1.76,"t":0.8,"m":0.246},{"h":1.76,"t":1.2,"m":0.132},{"h":1.76,"t":1.69,"m":0},{"h":1.76,"t":2.13,"m":-0.095},{"h":1.76,"t":2.57,"m":-0.225},{"h":1.76,"t":3.01,"m":-0.353},{"h":1.76,"t":3.27,"m":-0.42},{"h":1.76,"t":3.45,"m":-0.456},{"h":1.76,"t":3.65,"m":-0.436},{"h":1.76,"t":3.85,"m":-0.375},{"h":1.76,"t":4.05,"m":-0.295},{"h":1.76,"t":4.25,"m":-0.23},{"h":1.76,"t":4.45,"m":-0.192},{"h":1.76,"t":4.7,"m":-0.168},{"h":1.76,"t":5.05,"m":-0.151},{"h":1.76,"t":6.0,"m":-0.172},{"h":1.76,"t":6.6,"m":-0.195},{"h":1.76,"t":7.2,"m":-0.207},{"h":1.76,"t":7.8,"m":-0.201},{"h":1.76,"t":8.4,"m":-0.179},{"h":1.76,"t":9.0,"m":-0.159},{"h":1.76,"t":9.6,"m":-0.173},{"h":1.76,"t":9.9,"m":-0.215},{"h":1.76,"t":10.23,"m":-0.292},{"h":1.76,"t":10.62,"m":-0.379},{"h":1.76,"t":10.9,"m":-0.42},{"h":1.76,"t":11.1,"m":-0.431},{"h":1.76,"t":11.33,"m":-0.405},{"h":1.76,"t":11.7,"m":-0.337},{"h":1.76,"t":12.1,"m":-0.267},{"h":1.76,"t":12.5,"m":-0.235},{"h":1.76,"t":13,"m":-0.238},
{"h":1.77,"t":0,"m":0.483},{"h":1.77,"t":0.2,"m":0.455},{"h":1.77,"t":0.4,"m":0.399},{"h":1.77,"t":0.8,"m":0.244},{"h":1.77,"t":1.2,"m":0.128},{"h":1.77,"t":1.65,"m":0},{"h":1.77,"t":2.08,"m":-0.095},{"h":1.77,"t":2.51,"m":-0.225},{"h":1.77,"t":2.93,"m":-0.353},{"h":1.77,"t":3.19,"m":-0.42},{"h":1.77,"t":3.36,"m":-0.456},{"h":1.77,"t":3.56,"m":-0.436},{"h":1.77,"t":3.76,"m":-0.375},{"h":1.77,"t":3.96,"m":-0.295},{"h":1.77,"t":4.16,"m":-0.23},{"h":1.77,"t":4.36,"m":-0.191},{"h":1.77,"t":4.61,"m":-0.167},{"h":1.77,"t":4.96,"m":-0.149},{"h":1.77,"t":5.4,"m":-0.15},{"h":1.77,"t":6.0,"m":-0.175},{"h":1.77,"t":6.6,"m":-0.198},{"h":1.77,"t":7.2,"m":-0.21},{"h":1.77,"t":7.8,"m":-0.202},{"h":1.77,"t":8.4,"m":-0.177},{"h":1.77,"t":9.0,"m":-0.156},{"h":1.77,"t":9.525,"m":-0.17},{"h":1.77,"t":9.825,"m":-0.215},{"h":1.77,"t":10.155,"m":-0.292},{"h":1.77,"t":10.545,"m":-0.379},{"h":1.77,"t":10.825,"m":-0.42},{"h":1.77,"t":11.025,"m":-0.431},{"h":1.77,"t":11.255,"m":-0.405},{"h":1.77,"t":11.625,"m":-0.334},{"h":1.77,"t":12.025,"m":-0.262},{"h":1.77,"t":12.425,"m":-0.229},{"h":1.77,"t":13,"m":-0.235},
{"h":1.78,"t":0,"m":0.483},{"h":1.78,"t":0.2,"m":0.455},{"h":1.78,"t":0.4,"m":0.399},{"h":1.78,"t":0.8,"m":0.242},{"h":1.78,"t":1.2,"m":0.124},{"h":1.78,"t":1.61,"m":0},{"h":1.78,"t":2.03,"m":-0.095},{"h":1.78,"t":2.45,"m":-0.225},{"h":1.78,"t":2.86,"m":-0.353},{"h":1.78,"t":3.11,"m":-0.42},{"h":1.78,"t":3.28,"m":-0.455},{"h":1.78,"t":3.48,"m":-0.435},{"h":1.78,"t":3.68,"m":-0.375},{"h":1.78,"t":3.88,"m":-0.295},{"h":1.78,"t":4.08,"m":-0.23},{"h":1.78,"t":4.28,"m":-0.19},{"h":1.78,"t":4.53,"m":-0.165},{"h":1.78,"t":4.88,"m":-0.147},{"h":1.78,"t":5.4,"m":-0.149},{"h":1.78,"t":6.0,"m":-0.178},{"h":1.78,"t":6.6,"m":-0.201},{"h":1.78,"t":7.2,"m":-0.213},{"h":1.78,"t":7.8,"m":-0.203},{"h":1.78,"t":8.4,"m":-0.175},{"h":1.78,"t":9.0,"m":-0.152},{"h":1.78,"t":9.45,"m":-0.167},{"h":1.78,"t":9.75,"m":-0.215},{"h":1.78,"t":10.08,"m":-0.292},{"h":1.78,"t":10.47,"m":-0.379},{"h":1.78,"t":10.75,"m":-0.42},{"h":1.78,"t":10.95,"m":-0.43},{"h":1.78,"t":11.18,"m":-0.405},{"h":1.78,"t":11.55,"m":-0.331},{"h":1.78,"t":11.95,"m":-0.256},{"h":1.78,"t":12.35,"m":-0.223},{"h":1.78,"t":12.7,"m":-0.22},{"h":1.78,"t":13,"m":-0.233},
{"h":1.79,"t":0,"m":0.483},{"h":1.79,"t":0.2,"m":0.455},{"h":1.79,"t":0.4,"m":0.398},{"h":1.79,"t":0.8,"m":0.24},{"h":1.79,"t":1.2,"m":0.12},{"h":1.79,"t":1.57,"m":0},{"h":1.79,"t":1.98,"m":-0.095},{"h":1.79,"t":2.39,"m":-0.225},{"h":1.79,"t":2.79,"m":-0.353},{"h":1.79,"t":3.04,"m":-0.42},{"h":1.79,"t":3.2,"m":-0.452},{"h":1.79,"t":3.4,"m":-0.432},{"h":1.79,"t":3.6,"m":-0.375},{"h":1.79,"t":3.8,"m":-0.295},{"h":1.79,"t":4.0,"m":-0.23},{"h":1.79,"t":4.2,"m":-0.189},{"h":1.79,"t":4.45,"m":-0.164},{"h":1.79,"t":4.8,"m":-0.145},{"h":1.79,"t":5.4,"m":-0.15},{"h":1.79,"t":6.0,"m":-0.182},{"h":1.79,"t":6.6,"m":-0.205},{"h":1.79,"t":7.2,"m":-0.216},{"h":1.79,"t":7.8,"m":-0.204},{"h":1.79,"t":8.4,"m":-0.173},{"h":1.79,"t":9.0,"m":-0.149},{"h":1.79,"t":9.375,"m":-0.164},{"h":1.79,"t":9.675,"m":-0.215},{"h":1.79,"t":10.005,"m":-0.292},{"h":1.79,"t":10.395,"m":-0.379},{"h":1.79,"t":10.675,"m":-0.42},{"h":1.79,"t":10.875,"m":-0.43},{"h":1.79,"t":11.105,"m":-0.405},{"h":1.79,"t":11.475,"m":-0.328},{"h":1.79,"t":11.875,"m":-0.25},{"h":1.79,"t":12.275,"m":-0.216},{"h":1.79,"t":12.55,"m":-0.207},{"h":1.79,"t":12.8,"m":-0.212},{"h":1.79,"t":13,"m":-0.232},
{"h":1.8,"t":0,"m":0.483},{"h":1.8,"t":0.2,"m":0.455},{"h":1.8,"t":0.39,"m":0.398},{"h":1.8,"t":0.59,"m":0.315},{"h":1.8,"t":0.78,"m":0.238},{"h":1.8,"t":0.98,"m":0.173},{"h":1.8,"t":1.18,"m":0.116},{"h":1.8,"t":1.37,"m":0.064},{"h":1.8,"t":1.57,"m":0.006},{"h":1.8,"t":1.76,"m":-0.045},{"h":1.8,"t":1.96,"m":-0.103},{"h":1.8,"t":2.15,"m":-0.167},{"h":1.8,"t":2.35,"m":-0.231},{"h":1.8,"t":2.55,"m":-0.295},{"h":1.8,"t":2.74,"m":-0.356},{"h":1.8,"t":2.94,"m":-0.411},{"h":1.8,"t":3.13,"m":-0.448},{"h":1.8,"t":3.33,"m":-0.43},{"h":1.8,"t":3.51,"m":-0.379},{"h":1.8,"t":3.7,"m":-0.302},{"h":1.8,"t":3.9,"m":-0.231},{"h":1.8,"t":4.1,"m":-0.186},{"h":1.8,"t":4.3,"m":-0.161},{"h":1.8,"t":4.68,"m":-0.143},{"h":1.8,"t":5.07,"m":-0.143},{"h":1.8,"t":5.47,"m":-0.154},{"h":1.8,"t":5.86,"m":-0.18},{"h":1.8,"t":6.25,"m":-0.199},{"h":1.8,"t":6.64,"m":-0.209},{"h":1.8,"t":7.03,"m":-0.218},{"h":1.8,"t":7.39,"m":-0.218},{"h":1.8,"t":7.78,"m":-0.206},{"h":1.8,"t":8.17,"m":-0.186},{"h":1.8,"t":8.56,"m":-0.161},{"h":1.8,"t":8.99,"m":-0.145},{"h":1.8,"t":9.3,"m":-0.161},{"h":1.8,"t":9.62,"m":-0.218},{"h":1.8,"t":9.93,"m":-0.292},{"h":1.8,"t":10.32,"m":-0.379},{"h":1.8,"t":10.6,"m":-0.42},{"h":1.8,"t":10.8,"m":-0.43},{"h":1.8,"t":11.03,"m":-0.405},{"h":1.8,"t":11.42,"m":-0.321},{"h":1.8,"t":11.73,"m":-0.257},{"h":1.8,"t":12.05,"m":-0.218},{"h":1.8,"t":12.32,"m":-0.204},{"h":1.8,"t":12.6,"m":-0.209},{"h":1.8,"t":13,"m":-0.235}
]
},
"spacing":81,
"bounds":"flush",
"vconcat":[
{
 "width":1106,"height":605,
 "resolve":{"axis":{"x":"independent","y":"independent"}},
 "layer":[
  {"data":{"values":[{}]},
   "mark":{"type":"rule","color":"#808080","strokeWidth":3.5},
   "encoding":{"y":{"datum":0,"type":"quantitative","scale":{"domain":[-0.5,1],"nice":false,"zero":false},
     "axis":{"orient":"left","values":[-0.4,-0.3,-0.2,-0.1,0.1,0.2,0.3,0.4,0.6,0.7,0.8,0.9],"labels":false,"tickSize":8,"tickWidth":2.5,"title":null}}}},
  {"data":{"values":[{}]},
   "mark":{"type":"rule","color":"#008000","strokeWidth":6,"strokeDash":[22,10]},
   "encoding":{"y":{"datum":-0.474,"type":"quantitative","axis":null}}},
  {"data":{"name":"top"},
   "mark":{"type":"line","strokeWidth":5.5,"interpolate":"monotone","clip":true},
   "encoding":{
    "x":{"field":"t","type":"quantitative","scale":{"domain":[0,13],"nice":false,"zero":false},
      "axis":{"orient":"bottom","values":[0,2.5,5,7.5,10,12.5],"labels":false,"tickSize":14,"tickWidth":3,"title":null}},
    "y":{"field":"v","type":"quantitative",
      "axis":{"orient":"left","values":[-0.5,0,0.5,1],"format":".1f","tickSize":14,"tickWidth":3,"labelPadding":14,"title":null}},
    "color":{"field":"s","type":"nominal","scale":{"domain":["a","b","m"],"range":["#1f77b4","#ff7f0e","#ff0000"]},
      "legend":{"orient":"none","legendX":1119,"legendY":170,"title":null,"symbolType":"stroke","symbolSize":5929,"symbolStrokeWidth":5,"symbolOffset":20,"labelFontSize":52,"labelFontStyle":"italic","labelOffset":66,"rowPadding":30,"padding":20,"strokeColor":"#cccccc","cornerRadius":14,"fillColor":"white",
        "labelExpr":"datum.label == 'a' ? '⟨aᵢ†aᵢ⟩' : datum.label == 'b' ? '⟨bᵢ†bᵢ⟩' : 'mz(t)'",
        "encoding":{"symbols":{"stroke":{"condition":[{"test":"datum.value === 'a'","value":"#1f77b4"},{"test":"datum.value === 'b'","value":"#ff7f0e"}],"value":"#ff0000"}}}}},
    "strokeDash":{"field":"s","type":"nominal","scale":{"domain":["a","b","m"],"range":[[20,9],[20,9],[1,0]]},
      "legend":{"orient":"none","legendX":1119,"legendY":170,"title":null,"symbolType":"stroke","symbolSize":5929,"symbolStrokeWidth":5,"symbolOffset":20,"labelFontSize":52,"labelFontStyle":"italic","labelOffset":66,"rowPadding":30,"padding":20,"strokeColor":"#cccccc","cornerRadius":14,"fillColor":"white",
        "labelExpr":"datum.label == 'a' ? '⟨aᵢ†aᵢ⟩' : datum.label == 'b' ? '⟨bᵢ†bᵢ⟩' : 'mz(t)'",
        "encoding":{"symbols":{"stroke":{"condition":[{"test":"datum.value === 'a'","value":"#1f77b4"},{"test":"datum.value === 'b'","value":"#ff7f0e"}],"value":"#ff0000"}}}}}
   }},
  {"data":{"values":[{}]},
   "mark":{"type":"rule","color":"#808080","strokeWidth":5},
   "encoding":{
    "x":{"datum":2.13,"type":"quantitative","axis":{"orient":"bottom","values":[0.5,1,1.5,2,3,3.5,4,4.5,5.5,6,6.5,7,8,8.5,9,9.5,10.5,11,11.5,12,13],"labels":false,"tickSize":8,"tickWidth":2.5,"title":null}},
    "y":{"datum":0.04,"type":"quantitative","axis":null},
    "y2":{"datum":0.465}}},
  {"data":{"values":[{}]},
   "mark":{"type":"point","shape":"M-0.6,1.2L0,0L0.6,1.2","size":2304,"color":"#808080","filled":false,"strokeWidth":5,"opacity":1},
   "encoding":{"x":{"datum":2.13,"type":"quantitative","axis":null},"y":{"datum":0.47,"type":"quantitative","axis":null}}},
  {"data":{"values":[{}]},
   "mark":{"type":"point","shape":"M-0.6,-1.2L0,0L0.6,-1.2","size":2304,"color":"#808080","filled":false,"strokeWidth":5,"opacity":1},
   "encoding":{"x":{"datum":2.13,"type":"quantitative","axis":null},"y":{"datum":0.035,"type":"quantitative","axis":null}}},
  {"data":{"values":[{}]},
   "mark":{"type":"text","text":"a)","fontSize":60,"align":"left","baseline":"alphabetic","color":"black"},
   "encoding":{"x":{"datum":0.55,"type":"quantitative","axis":null},"y":{"datum":-0.435,"type":"quantitative","axis":null}}}
 ]
},
{
 "width":1106,"height":604,
 "resolve":{"axis":{"x":"independent","y":"independent"}},
 "layer":[
  {"data":{"name":"bot"},
   "mark":{"type":"line","interpolate":"monotone","clip":true},
   "encoding":{
    "x":{"field":"t","type":"quantitative","scale":{"domain":[0,13],"nice":false,"zero":false},
      "axis":{"orient":"bottom","values":[0,2.5,5,7.5,10,12.5],"format":".1f","tickSize":14,"tickWidth":3,"labelPadding":14,"title":"t/J⁻¹","titlePadding":4}},
    "y":{"field":"m","type":"quantitative","scale":{"domain":[-0.5,0.5],"nice":false,"zero":false},
      "axis":{"orient":"left","values":[-0.4,-0.2,0,0.2,0.4],"format":".1f","tickSize":14,"tickWidth":3,"labelPadding":14,"title":"mz(t)","titlePadding":16}},
    "color":{"field":"h","type":"quantitative","scale":{"scheme":"turbo","domain":[1.599,1.801]},
      "legend":{"orient":"none","legendX":1128.5,"legendY":0,"type":"gradient","direction":"vertical","title":null,"gradientLength":604,"gradientThickness":57,"gradientStrokeColor":"black","gradientStrokeWidth":3.5,"values":[1.6,1.65,1.7,1.75,1.8],"format":".2f","labelFontSize":58,"labelOffset":30,"labelBaseline":"middle","labelOverlap":false,"padding":0}},
    "strokeWidth":{"condition":{"test":"datum.h >= 1.7","value":7.5},"value":5},
    "detail":{"field":"h","type":"nominal"}
   }},
  {"data":{"values":[{}]},
   "mark":{"type":"rule","color":"#808080","strokeWidth":3.5},
   "encoding":{"y":{"datum":0,"type":"quantitative",
     "axis":{"orient":"left","values":[-0.5,-0.45,-0.35,-0.3,-0.25,-0.15,-0.1,-0.05,0.05,0.1,0.15,0.25,0.3,0.35,0.45,0.5],"labels":false,"tickSize":8,"tickWidth":2.5,"title":null}}}},
  {"data":{"values":[{}]},
   "mark":{"type":"text","text":"b)","fontSize":60,"align":"left","baseline":"alphabetic","color":"black"},
   "encoding":{"x":{"datum":0.55,"type":"quantitative","axis":{"orient":"bottom","values":[0.5,1,1.5,2,3,3.5,4,4.5,5.5,6,6.5,7,8,8.5,9,9.5,10.5,11,11.5,12,13],"labels":false,"tickSize":8,"tickWidth":2.5,"title":null}},
     "y":{"datum":-0.433,"type":"quantitative","axis":null}}},
  {"data":{"values":[{}]},
   "mark":{"type":"text","text":"hy/J","fontSize":60,"fontStyle":"italic","angle":270,"align":"center","baseline":"middle","color":"black"},
   "encoding":{"x":{"datum":15.93,"type":"quantitative","axis":null},"y":{"datum":0.0,"type":"quantitative","axis":null}}},
  {"data":{"values":[{}]},"mark":{"type":"rule","color":"black","strokeWidth":3},
   "encoding":{"x":{"datum":13.93,"type":"quantitative","axis":null},"x2":{"datum":14.09},"y":{"datum":0.495,"type":"quantitative","axis":null}}},
  {"data":{"values":[{}]},"mark":{"type":"rule","color":"black","strokeWidth":3},
   "encoding":{"x":{"datum":13.93,"type":"quantitative","axis":null},"x2":{"datum":14.09},"y":{"datum":0.2525,"type":"quantitative","axis":null}}},
  {"data":{"values":[{}]},"mark":{"type":"rule","color":"black","strokeWidth":3},
   "encoding":{"x":{"datum":13.93,"type":"quantitative","axis":null},"x2":{"datum":14.09},"y":{"datum":0.005,"type":"quantitative","axis":null}}},
  {"data":{"values":[{}]},"mark":{"type":"rule","color":"black","strokeWidth":3},
   "encoding":{"x":{"datum":13.93,"type":"quantitative","axis":null},"x2":{"datum":14.09},"y":{"datum":-0.2475,"type":"quantitative","axis":null}}},
  {"data":{"values":[{}]},"mark":{"type":"rule","color":"black","strokeWidth":3},
   "encoding":{"x":{"datum":13.93,"type":"quantitative","axis":null},"x2":{"datum":14.09},"y":{"datum":-0.49,"type":"quantitative","axis":null}}}
 ]
}
]
}
